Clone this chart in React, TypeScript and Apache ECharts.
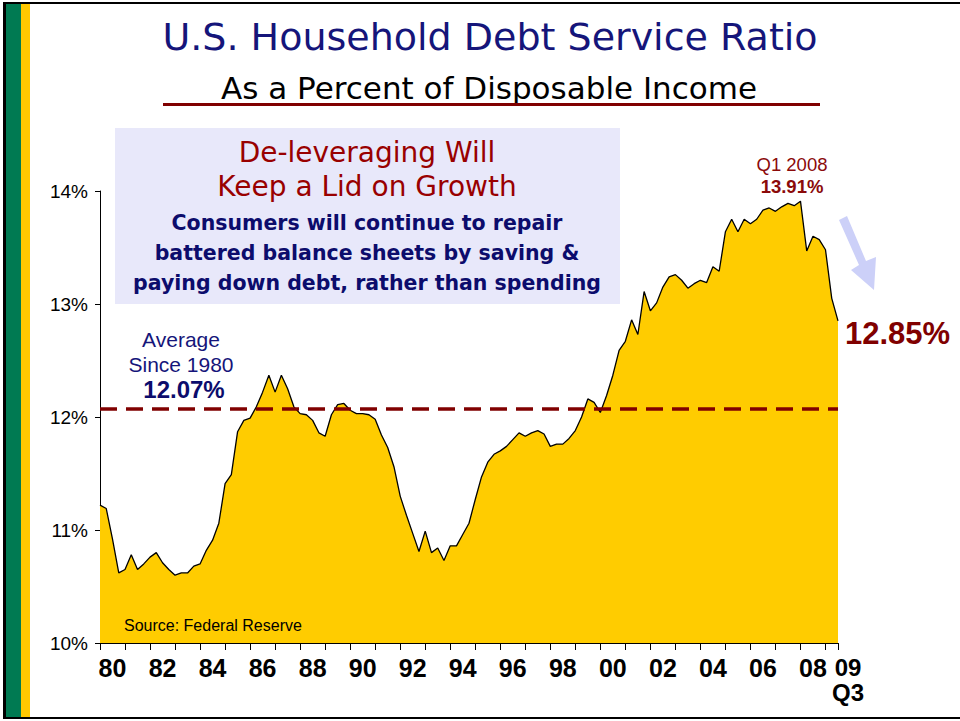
import React, { useEffect, useRef } from 'react';
import * as echarts from 'echarts';

// Quarterly household debt service ratio (% of disposable income)
const debtRatio1980s = [
  11.22, 11.19, 10.92, 10.62, 10.65, 10.78, 10.65, 10.70, 10.76, 10.80,
  10.71, 10.65, 10.60, 10.62, 10.62, 10.68, 10.70, 10.82, 10.91, 11.06,
  11.41, 11.49, 11.87, 11.97, 11.99, 12.09, 12.22, 12.37, 12.22, 12.37,
  12.25, 12.09, 12.03, 12.02, 11.97, 11.86, 11.83, 12.02, 12.11, 12.12,
];
const debtRatio1990s = [
  12.06, 12.03, 12.03, 12.02, 11.98, 11.84, 11.73, 11.56, 11.30, 11.13,
  10.97, 10.81, 10.99, 10.80, 10.84, 10.73, 10.86, 10.86, 10.96, 11.06,
  11.27, 11.47, 11.60, 11.67, 11.70, 11.74, 11.80, 11.86, 11.83, 11.86,
  11.88, 11.85, 11.74, 11.76, 11.76, 11.81, 11.88, 12.00, 12.16, 12.13,
];
const debtRatio2000s = [
  12.04, 12.19, 12.37, 12.59, 12.67, 12.86, 12.73, 13.11, 12.94, 13.01,
  13.15, 13.24, 13.26, 13.21, 13.14, 13.18, 13.21, 13.19, 13.33, 13.29,
  13.64, 13.75, 13.64, 13.75, 13.71, 13.75, 13.83, 13.85, 13.82, 13.86,
  13.89, 13.87, 13.91, 13.47, 13.60, 13.57, 13.48, 13.05, 12.85,
];

const firstYear = 1980;
const averageSince1980 = 12.07;
const xLabelYears = [1980, 1982, 1984, 1986, 1988, 1990, 1992, 1994, 1996, 1998, 2000, 2002, 2004, 2006, 2008];
const lastLabel = ['09', 'Q3'];
const yMin = 10;
const yMax = 14;

const titleText = 'U.S. Household Debt Service Ratio';
const subtitleText = 'As a Percent of Disposable Income';
const boxHeadline = ['De-leveraging Will', 'Keep a Lid on Growth'];
const boxBody = [
  'Consumers will continue to repair',
  'battered balance sheets by saving &',
  'paying down debt, rather than spending',
];
const averageLines = ['Average', 'Since 1980', '12.07%'];
const peakLines = ['Q1 2008', '13.91%'];
const latestText = '12.85%';
const sourceText = 'Source: Federal Reserve';

const allValues = [...debtRatio1980s, ...debtRatio1990s, ...debtRatio2000s];
const seriesData = allValues.map((v, i) => [firstYear + i / 4, v]);
const lastX = firstYear + (allValues.length - 1) / 4;

const SANS = "'Liberation Sans', Arial, sans-serif";
const VERD = "'DejaVu Sans', Verdana, sans-serif";
const NARROW = "'Liberation Sans Narrow', 'Arial Narrow', 'Liberation Sans', sans-serif";

export default function App() {
  const ref = useRef<HTMLDivElement>(null);
  useEffect(() => {
    if (!ref.current) return;
    const chart = echarts.init(ref.current, null, { renderer: 'svg' });
    const navy = '#15157a';
    const darkRed = '#8b0a0a';
    chart.setOption({
      animation: false,
      backgroundColor: '#ffffff',
      grid: { left: 100, right: 122, top: 191, bottom: 78, containLabel: false },
      xAxis: [
        {
          type: 'value',
          min: firstYear,
          max: lastX,
          interval: 1,
          axisLine: { show: true, lineStyle: { color: '#000', width: 1 } },
          axisTick: { show: true, length: 7, lineStyle: { color: '#000' } },
          axisLabel: { show: false },
          splitLine: { show: false },
        },
        {
          type: 'value',
          position: 'bottom',
          min: firstYear,
          max: lastX,
          interval: 0.5,
          axisLine: { show: false },
          axisTick: { show: false },
          splitLine: { show: false },
          axisLabel: {
            show: true,
            showMinLabel: true,
            showMaxLabel: true,
            margin: 12,
            color: '#000',
            fontFamily: NARROW,
            fontWeight: 'bold',
            fontSize: 25,
            lineHeight: 25,
            formatter: (v: number) => {
              if (Math.abs(v - lastX) < 1e-6) return `{q|${lastLabel[0]}}\n{q|${lastLabel[1]}}`;
              const y = Math.round(v - 0.5);
              if (Math.abs(v - 0.5 - y) < 1e-6 && xLabelYears.includes(y)) return String(y).slice(2);
              return '';
            },
            rich: {
              q: {
                fontFamily: NARROW,
                fontWeight: 'bold',
                fontSize: 24,
                lineHeight: 25,
                color: '#000',
                padding: [0, 0, 0, 20],
              },
            },
          },
        },
      ],
      yAxis: {
        type: 'value',
        min: yMin,
        max: yMax,
        interval: 1,
        axisLine: { show: true, lineStyle: { color: '#000', width: 1 } },
        axisTick: { show: true, length: 5, lineStyle: { color: '#000' } },
        axisLabel: { color: '#000', fontFamily: SANS, fontSize: 19, margin: 12, formatter: '{value}%' },
        splitLine: { show: false },
      },
      series: [
        {
          type: 'line',
          data: seriesData,
          xAxisIndex: 0,
          symbol: 'none',
          lineStyle: { color: '#000', width: 1.3 },
          areaStyle: { color: '#FFCC00', opacity: 1 },
          markLine: {
            silent: true,
            symbol: ['none', 'none'],
            label: { show: false },
            lineStyle: { color: '#800000', width: 3.5, type: [17, 9] },
            data: [{ yAxis: averageSince1980 }],
          },
          z: 2,
        },
      ],
      graphic: [
        // left stripes and borders
        { type: 'rect', shape: { x: 6, y: 4, width: 15, height: 714 }, style: { fill: '#007A52' }, z: 10 },
        { type: 'rect', shape: { x: 21, y: 4, width: 9, height: 714 }, style: { fill: '#FFC800' }, z: 10 },
        { type: 'rect', shape: { x: 3, y: 2, width: 957, height: 2 }, style: { fill: '#000' }, z: 10 },
        { type: 'rect', shape: { x: 3, y: 2, width: 3, height: 716 }, style: { fill: '#000' }, z: 10 },
        { type: 'rect', shape: { x: 3, y: 717, width: 957, height: 2 }, style: { fill: '#000' }, z: 10 },
        // title
        {
          type: 'text', x: 490, y: 37,
          style: { text: titleText, fill: navy, font: `38px ${VERD}`, textAlign: 'center', textVerticalAlign: 'middle' },
        },
        {
          type: 'text', x: 489, y: 88,
          style: { text: subtitleText, fill: '#000', font: `31px ${VERD}`, textAlign: 'center', textVerticalAlign: 'middle' },
        },
        { type: 'rect', shape: { x: 163, y: 103, width: 657, height: 3 }, style: { fill: '#800000' } },
        // annotation box
        { type: 'rect', shape: { x: 115, y: 128, width: 505, height: 176 }, style: { fill: '#E8E8FA' } },
        ...boxHeadline.map((t, i) => ({
          type: 'text', x: 367, y: 152 + i * 34,
          style: { text: t, fill: '#990000', font: `28px ${VERD}`, textAlign: 'center', textVerticalAlign: 'middle' },
        })),
        ...boxBody.map((t, i) => ({
          type: 'text', x: 367, y: 223 + i * 30,
          style: { text: t, fill: '#0c0c6c', font: `bold 20.5px ${VERD}`, textAlign: 'center', textVerticalAlign: 'middle' },
        })),
        // average label
        ...averageLines.map((t, i) => ({
          type: 'text', x: i === 2 ? 184 : 181, y: 339 + i * 25,
          style: {
            text: t, fill: i === 2 ? '#0c0c6c' : navy,
            font: `${i === 2 ? 'bold 24px' : '21px'} ${SANS}`,
            textAlign: 'center', textVerticalAlign: 'middle',
          },
        })),
        // peak label
        ...peakLines.map((t, i) => ({
          type: 'text', x: 792, y: 164 + i * 22,
          style: {
            text: t, fill: darkRed, font: `${i === 1 ? 'bold ' : ''}18.5px ${SANS}`,
            textAlign: 'center', textVerticalAlign: 'middle',
          },
        })),
        // arrow
        {
          type: 'polygon',
          shape: { points: [[839, 220], [847, 216], [866, 261], [876, 257], [874, 290], [851, 270], [859, 265]] },
          style: { fill: '#CCD0F8' },
        },
        {
          type: 'text', x: 845, y: 333,
          style: { text: latestText, fill: '#800000', font: `bold 31px ${SANS}`, textAlign: 'left', textVerticalAlign: 'middle' },
        },
        {
          type: 'text', x: 124, y: 625,
          style: { text: sourceText, fill: '#000', font: `16px ${SANS}`, textAlign: 'left', textVerticalAlign: 'middle' },
          z: 10,
        },
      ],
    });
    return () => chart.dispose();
  }, []);
  return <div ref={ref} style={{ position: 'absolute', left: 0, top: 0, width: 960, height: 721 }} />;
}
